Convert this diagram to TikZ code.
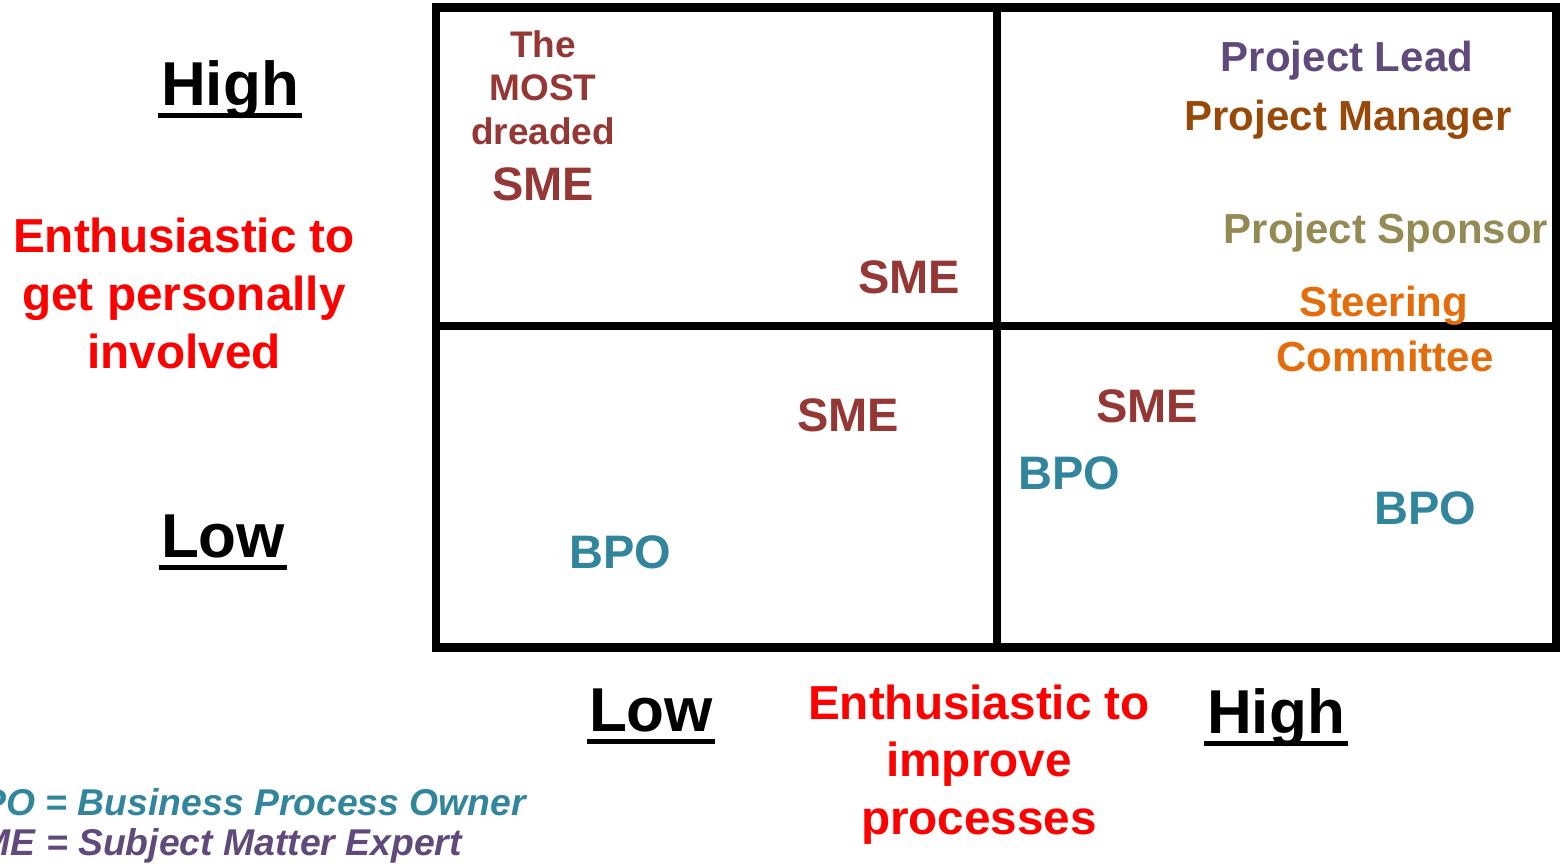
\documentclass[tikz,border=0pt]{standalone}
\usepackage{fontspec}
\setmainfont{Liberation Sans}
\begin{document}
\begin{tikzpicture}[x=1pt,y=-1pt,
  lbl/.style={inner sep=0pt,anchor=base,font=\bfseries\fontsize{#1}{#1}\selectfont},
  axis/.style={lbl=62,text=black},
  red/.style={lbl=47.7,text=enthred},
  smeTxt/.style={lbl=47,text=smecol},
  bpoTxt/.style={lbl=47,text=bpocol},
  roleTxt/.style={lbl=42},
  legend/.style={inner sep=0pt,anchor=base east,font=\bfseries\itshape\fontsize{37.3}{37.3}\selectfont},
  grid/.style={line width=8.5pt}]
\definecolor{enthred}{RGB}{255,0,0}
\definecolor{smecol}{RGB}{149,55,53}
\definecolor{bpocol}{RGB}{49,133,156}
\definecolor{leadcol}{RGB}{96,74,123}
\definecolor{mgrcol}{RGB}{152,72,7}
\definecolor{sponcol}{RGB}{148,138,84}
\definecolor{steercol}{RGB}{228,108,10}
\useasboundingbox (0,0) rectangle (1560,863);
% grid
\draw[grid] (436,7.5) rectangle (1556,647.5);
\draw[grid] (997,7.5) -- (997,647.5);
\draw[grid] (436,326) -- (1556,326);
% axis labels
\node[axis] (highL) at (230,105) {High};
\draw[line width=5.5pt] (158,115.5) -- (302,115.5);
\node[axis] (lowL) at (223,557) {Low};
\draw[line width=5.5pt] (159,567.5) -- (287,567.5);
\node[axis] (lowB) at (651,731) {Low};
\draw[line width=5.5pt] (587,741.5) -- (715,741.5);
\node[axis] (highB) at (1276,733) {High};
\draw[line width=5.5pt] (1204,743.5) -- (1348,743.5);
% red axis titles
\node[red] (e1) at (184,252) {Enthusiastic to};
\node[red] (e2) at (184,310) {get personally};
\node[red] (e3) at (184,368) {involved};
\node[red] (f1) at (979,719) {Enthusiastic to};
\node[red] (f2) at (979,776) {improve};
\node[red] (f3) at (979,834) {processes};
% top-left quadrant
\node[lbl=37,text=smecol] (the) at (543,57) {The};
\node[lbl=37,text=smecol] (most) at (543,100) {MOST};
\node[lbl=37,text=smecol] (dread) at (543,144) {dreaded};
\node[smeTxt] (sme1) at (543,200) {SME};
\node[smeTxt] (sme2) at (909,293) {SME};
% bottom-left quadrant
\node[smeTxt] (sme3) at (848,431) {SME};
\node[bpoTxt] (bpo1) at (620,568) {BPO};
% bottom-right quadrant
\node[smeTxt] (sme4) at (1147,422) {SME};
\node[bpoTxt] (bpo2) at (1069,489) {BPO};
\node[bpoTxt] (bpo3) at (1425,524) {BPO};
% top-right quadrant
\node[roleTxt,text=leadcol] (lead) at (1347,71) {Project Lead};
\node[roleTxt,text=mgrcol] (mgr) at (1348,130) {Project Manager};
\node[roleTxt,text=sponcol] (spon) at (1386,243) {Project Sponsor};
\node[roleTxt,text=steercol] (steer) at (1384,316) {Steering};
\node[roleTxt,text=steercol] (comm) at (1385,371) {Committee};
% legend
\node[legend,text=bpocol] (leg1) at (526,815) {BPO = Business Process Owner};
\node[legend,text=leadcol] (leg2) at (462,855) {SME = Subject Matter Expert};
\end{tikzpicture}
\end{document}
